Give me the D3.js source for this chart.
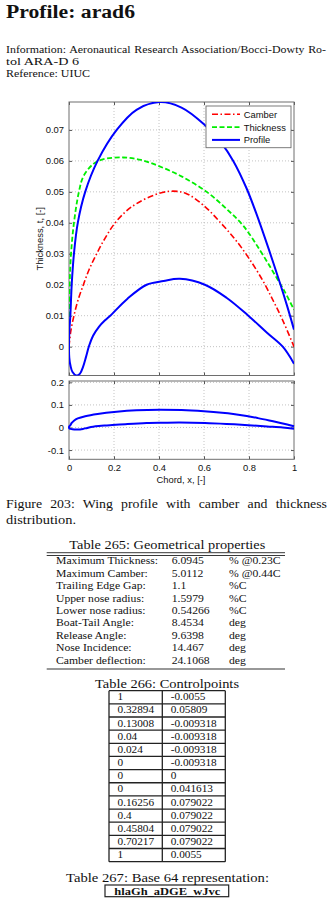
<!DOCTYPE html>
<html><head><meta charset="utf-8">
<script src="https://cdn.jsdelivr.net/npm/d3@7"></script>
<style>body{margin:0;background:#fff} svg{display:block}</style>
</head><body><svg id="c" width="333" height="899"></svg>
<script>
// ---- data ----
const upperX = [0, 0.0015, 0.006, 0.012, 0.022, 0.039, 0.072, 0.127, 0.212, 0.3, 0.403, 0.5, 0.6, 0.68, 0.73, 0.79, 0.84, 0.89, 0.94, 0.97, 1.0];
const upperY = [0, 0.005, 0.01, 0.02, 0.03, 0.04, 0.05, 0.06, 0.07, 0.0765, 0.079, 0.0772, 0.0718, 0.0655, 0.06, 0.051, 0.0415, 0.031, 0.02, 0.013, 0.0055];
const lowerX = [0, 0.0013, 0.0067, 0.0156, 0.033, 0.049, 0.062, 0.0756, 0.089, 0.107, 0.133, 0.16, 0.182, 0.26, 0.345, 0.42, 0.493, 0.604, 0.7, 0.797, 0.88, 0.95, 1.0];
const lowerY = [0, -0.0036, -0.0062, -0.0082, -0.0093, -0.0087, -0.0066, -0.0033, 0.0002, 0.0035, 0.0064, 0.0085, 0.0099, 0.0155, 0.02, 0.0212, 0.0219, 0.02, 0.0158, 0.01, 0.0045, 0, -0.0055];
const camberX = [0, 0.008, 0.022, 0.04, 0.064, 0.09, 0.123, 0.16, 0.2, 0.25, 0.3, 0.38, 0.449, 0.52, 0.6, 0.674, 0.74, 0.8, 0.86, 0.91, 0.95, 1.0];
const camberY = [0, 0.005, 0.01, 0.015, 0.02, 0.025, 0.03, 0.035, 0.0395, 0.0435, 0.0462, 0.049, 0.0502, 0.0495, 0.0455, 0.04, 0.0345, 0.0285, 0.0215, 0.0145, 0.0085, 0];
const thickX = [0, 0.003, 0.009, 0.022, 0.044, 0.064, 0.108, 0.15, 0.241, 0.32, 0.4, 0.5, 0.612, 0.7, 0.775, 0.85, 0.91, 0.96, 1.0];
const thickY = [0, 0.02, 0.03, 0.04, 0.05, 0.055, 0.059, 0.0605, 0.0611, 0.0603, 0.0583, 0.055, 0.05, 0.0445, 0.039, 0.031, 0.0238, 0.0176, 0.0119];
const mainYTicks = [0, 0.01, 0.02, 0.03, 0.04, 0.05, 0.06, 0.07];
const xTicks = [0, 0.2, 0.4, 0.6, 0.8, 1];
const subYTicks = [-0.1, 0, 0.1, 0.2];
const legendNames = ["Camber", "Thickness", "Profile"];

const propLabels = ["Maximum Thickness:", "Maximum Camber:", "Trailing Edge Gap:", "Upper nose radius:", "Lower nose radius:", "Boat-Tail Angle:", "Release Angle:", "Nose Incidence:", "Camber deflection:"];
const propValues = ["6.0945", "5.0112", "1.1", "1.5979", "0.54266", "8.4534", "9.6398", "14.467", "24.1068"];
const propUnits = ["% @0.23C", "% @0.44C", "%C", "%C", "%C", "deg", "deg", "deg", "deg"];
const cpX = ["1", "0.32894", "0.13008", "0.04", "0.024", "0", "0", "0", "0.16256", "0.4", "0.45804", "0.70217", "1"];
const cpY = ["-0.0055", "0.05809", "-0.009318", "-0.009318", "-0.009318", "-0.009318", "0", "0.041613", "0.079022", "0.079022", "0.079022", "0.079022", "0.0055"];

// ---- drawing ----
const svg = d3.select("#c");
svg.append("rect").attr("width", 333).attr("height", 899).attr("fill", "#fff");
const serif = "'Liberation Serif', 'Times New Roman', serif";
const sans = "'Liberation Sans', Arial, sans-serif";

function stext(x, y, t, size, opts = {}) {
  const e = svg.append("text").attr("x", x).attr("y", y).text(t)
    .attr("font-family", serif).attr("font-size", size).attr("fill", "#111");
  if (opts.bold) e.attr("font-weight", "bold");
  if (opts.anchor) e.attr("text-anchor", opts.anchor);
  if (opts.len) {
    if (opts.glyph) {
      const w0 = e.node().getComputedTextLength();
      const gaps = (t.match(/ +/g) || []).length;
      const ws = (opts.len / opts.glyph - w0) / Math.max(gaps, 1);
      if (ws > 0) e.attr("word-spacing", ws);
    }
    e.attr("textLength", opts.len).attr("lengthAdjust", "spacingAndGlyphs");
  } else if (opts.k) {
    const w = e.node().getComputedTextLength();
    e.attr("textLength", w * opts.k).attr("lengthAdjust", "spacingAndGlyphs");
  }
  return e;
}
function widthOf(t, size) {
  const e = svg.append("text").text(t).attr("font-family", serif).attr("font-size", size);
  const w = e.node().getComputedTextLength();
  e.remove();
  return w;
}

stext(6, 17.5, "Profile:  arad6", 18.5, {bold: true, len: 129});
stext(6, 53.3, "Information:  Aeronautical Research Association/Bocci-Dowty Ro-", 11, {len: 320, glyph: 1.08});
stext(6, 64.8, "tol ARA-D 6", 11, {len: 73});
stext(6, 76.5, "Reference:  UIUC", 11, {len: 84});

const zip = (xs, ys) => xs.map((x, i) => [x, ys[i]]);
const profilePts = zip(upperX, upperY).reverse().concat(zip(lowerX, lowerY).slice(1));

const x = d3.scaleLinear().domain([0, 1]).range([69, 294]);
const yM = d3.scaleLinear().domain([-0.009318, 0.079022]).range([375.5, 102]);
const yS = d3.scaleLinear().domain([-0.141, 0.206]).range([459.3, 381]);

function frame(ys, yTicks, showX) {
  const [y0, y1] = ys.range();
  const g = svg.append("g");
  g.selectAll(".gx").data(xTicks.slice(1, -1)).join("line")
    .attr("x1", d => x(d)).attr("x2", d => x(d)).attr("y1", y1).attr("y2", y0)
    .attr("stroke", "#b4b4b4").attr("stroke-width", 0.8).attr("stroke-dasharray", "1,2");
  g.selectAll(".gy").data(yTicks).join("line")
    .attr("x1", 69).attr("x2", 294).attr("y1", d => ys(d)).attr("y2", d => ys(d))
    .attr("stroke", "#b4b4b4").attr("stroke-width", 0.8).attr("stroke-dasharray", "1,2");
  const fmt = d => d === 0 ? "0" : String(d);
  const ay = g.append("g").attr("transform", "translate(69,0)")
    .call(d3.axisLeft(ys).tickValues(yTicks).tickSize(-3).tickPadding(5).tickFormat(fmt));
  const ayr = g.append("g").attr("transform", "translate(294,0)")
    .call(d3.axisRight(ys).tickValues(yTicks).tickSize(-3).tickFormat(""));
  const axb = g.append("g").attr("transform", `translate(0,${y0})`)
    .call(d3.axisBottom(x).tickValues(xTicks).tickSize(-3).tickPadding(5).tickFormat(showX ? fmt : ""));
  const axt = g.append("g").attr("transform", `translate(0,${y1})`)
    .call(d3.axisTop(x).tickValues(xTicks).tickSize(-3).tickFormat(""));
  [ay, ayr, axb, axt].forEach(a => {
    a.select(".domain").remove();
    a.selectAll("line").attr("stroke", "#555");
    a.selectAll("text").attr("font-family", sans).attr("font-size", 9.4).attr("fill", "#111");
  });
  g.append("rect").attr("x", 69).attr("y", y1).attr("width", 225).attr("height", y0 - y1)
    .attr("fill", "none").attr("stroke", "#6e6e6e").attr("stroke-width", 1);
  return g;
}

frame(yM, mainYTicks, false);
frame(yS, subYTicks, true);

const lineM = d3.line().x(d => x(d[0])).y(d => yM(d[1])).curve(d3.curveCatmullRom.alpha(0.5));
const lineS = d3.line().x(d => x(d[0])).y(d => yS(d[1])).curve(d3.curveCatmullRom.alpha(0.5));

svg.append("clipPath").attr("id", "cm").append("rect")
  .attr("x", 69).attr("y", 102).attr("width", 225).attr("height", 273.5);

const pm = svg.append("g").attr("clip-path", "url(#cm)");
pm.append("path").attr("d", lineM(zip(camberX, camberY))).attr("fill", "none")
  .attr("stroke", "#ff0000").attr("stroke-width", 1.6).attr("stroke-dasharray", "6,2.5,1.5,2.5");
pm.append("path").attr("d", lineM(zip(thickX, thickY))).attr("fill", "none")
  .attr("stroke", "#00ee00").attr("stroke-width", 1.8).attr("stroke-dasharray", "5,2.5");
pm.append("path").attr("d", lineM(profilePts)).attr("fill", "none")
  .attr("stroke", "#0000ff").attr("stroke-width", 2);

svg.append("path").attr("d", lineS(profilePts)).attr("fill", "none")
  .attr("stroke", "#0000ff").attr("stroke-width", 2);

// legend
const lg = svg.append("g");
lg.append("rect").attr("x", 206).attr("y", 106).attr("width", 85).attr("height", 41.7)
  .attr("fill", "#fff").attr("stroke", "#6e6e6e").attr("stroke-width", 0.9);
const lgStyles = [
  {c: "#ff0000", w: 1.6, d: "6,2.5,1.5,2.5"},
  {c: "#00ee00", w: 1.8, d: "5,2.5"},
  {c: "#0000ff", w: 2, d: null}];
legendNames.forEach((n, i) => {
  const yy = 114.3 + i * 12.8;
  const l = lg.append("line").attr("x1", 212).attr("x2", 240).attr("y1", yy).attr("y2", yy)
    .attr("stroke", lgStyles[i].c).attr("stroke-width", lgStyles[i].w);
  if (lgStyles[i].d) l.attr("stroke-dasharray", lgStyles[i].d);
  lg.append("text").attr("x", 243.7).attr("y", yy + 3.4).text(n)
    .attr("font-family", sans).attr("font-size", 9.4).attr("fill", "#111");
});

svg.append("text").attr("transform", "translate(43,238.8) rotate(-90)").attr("text-anchor", "middle")
  .text("Thickness, t, [-]").attr("font-family", sans).attr("font-size", 9.4).attr("fill", "#111");
svg.append("text").attr("x", 181).attr("y", 483).attr("text-anchor", "middle")
  .text("Chord, x, [-]").attr("font-family", sans).attr("font-size", 9.4).attr("fill", "#111");

stext(6, 508.3, "Figure 203:   Wing profile with camber and thickness", 11.5, {len: 321, glyph: 1.2});
stext(6, 524, "distribution.", 11.5, {len: 70});

// Table 265
stext(69.3, 549, "Table 265:  Geometrical properties", 12, {len: 196});
svg.append("line").attr("x1", 46.7).attr("x2", 285).attr("y1", 552.7).attr("y2", 552.7).attr("stroke", "#222").attr("stroke-width", 0.9);
svg.append("line").attr("x1", 46.7).attr("x2", 285).attr("y1", 555.5).attr("y2", 555.5).attr("stroke", "#222").attr("stroke-width", 0.9);
svg.append("line").attr("x1", 46.7).attr("x2", 285).attr("y1", 669).attr("y2", 669).attr("stroke", "#333").attr("stroke-width", 1.1);
const k265 = 102 / widthOf(propLabels[0], 11.3);
propLabels.forEach((t, i) => {
  const yy = 564.4 + i * 12.4;
  stext(56, yy, t, 11.3, {k: k265});
  stext(171.7, yy, propValues[i], 11.3, {k: k265});
  stext(229, yy, propUnits[i], 11.3, {k: k265});
});

// Table 266
stext(95, 688, "Table 266:  Controlpoints", 12, {len: 144});
const rowH = 13.15, tTop = 690.7;
const nR = cpX.length;
const tb = svg.append("g").attr("stroke", "#222").attr("stroke-width", 1.3);
d3.range(nR + 1).forEach(i => {
  tb.append("line").attr("x1", 109).attr("x2", 225.3).attr("y1", tTop + i * rowH).attr("y2", tTop + i * rowH);
});
[109, 162.3, 225.3].forEach(xx => {
  tb.append("line").attr("x1", xx).attr("x2", xx).attr("y1", tTop).attr("y2", tTop + nR * rowH);
});
const k266 = 46 / widthOf("-0.009318", 11);
cpX.forEach((v, i) => {
  const yy = tTop + i * rowH + 9.6;
  stext(117.5, yy, v, 11, {k: k266});
  stext(170.7, yy, cpY[i], 11, {k: k266});
});

// Table 267
stext(66, 881.7, "Table 267:   Base 64 representation:", 12, {len: 203});
svg.append("rect").attr("x", 105).attr("y", 885).attr("width", 123.7).attr("height", 11.7)
  .attr("fill", "none").attr("stroke", "#222").attr("stroke-width", 1.2);
stext(167.3, 894.6, "hlaGh_aDGE_wJvc", 10, {bold: true, anchor: "middle", len: 106});
</script></body></html>
